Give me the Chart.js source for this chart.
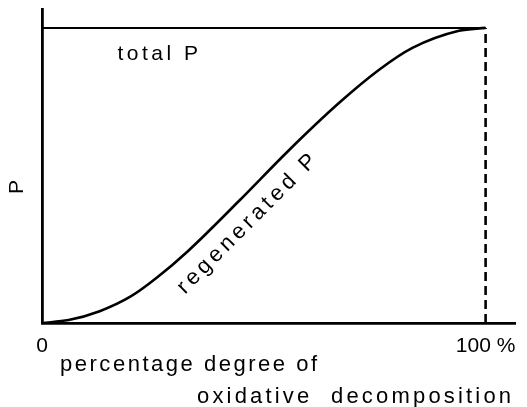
<!DOCTYPE html>
<html>
<head>
<meta charset="utf-8">
<script src="https://cdn.jsdelivr.net/npm/chart.js@4.4.0/dist/chart.umd.min.js"></script>
<style>
  html, body { margin: 0; padding: 0; background: #fff; }
  #wrap { width: 527px; height: 407px; }
</style>
</head>
<body>
<div id="wrap"><canvas id="oxChart"></canvas></div>
<script>
// regenerated P against degree of oxidative decomposition (%)
const degree = [0, 6, 13, 20, 26, 33, 44.5, 55.5, 67, 76, 83.5, 94, 100];
const regenerated = [0, 1, 4, 9, 15.5, 24.5, 41.5, 58.3, 74.6, 85.8, 93.2, 99, 100];
// total P stays flat over the whole range
const totalDegree = [0, 100];
const totalP = [100, 100];
// end of decomposition marker
const endDegree = [100, 100];
const endP = [0, 100];

const xTicks = [0, 100];
const xTickLabels = ['0', '100 %'];
const xTitle = ['percentage degree of', 'oxidative  decomposition'];
const yTitle = 'P';
const lineNames = ['total P', 'regenerated P'];

const FONT = '"Liberation Sans", Arial, sans-serif';

const pairs = (xs, ys) => xs.map((v, i) => ({ x: v, y: ys[i] }));

// draws the curve names and the axis titles
const labelPlugin = {
  id: 'labels',
  afterDraw(chart) {
    const { ctx, scales: { x, y } } = chart;
    ctx.save();
    ctx.fillStyle = '#000';
    ctx.font = '21px ' + FONT;

    // total P, under the flat line
    ctx.letterSpacing = '3.5px';
    ctx.textAlign = 'left';
    ctx.textBaseline = 'alphabetic';
    ctx.fillText(lineNames[0], x.getPixelForValue(17), y.getPixelForValue(89.2));

    // regenerated P, running along the curve
    ctx.save();
    ctx.font = '22px ' + FONT;
    ctx.letterSpacing = '4px';
    ctx.translate(x.getPixelForValue(46.5), y.getPixelForValue(34));
    ctx.rotate(-Math.PI / 4);
    ctx.textAlign = 'center';
    ctx.textBaseline = 'middle';
    ctx.fillText(lineNames[1], 0, 0);
    ctx.restore();

    // y title
    ctx.save();
    ctx.letterSpacing = '0px';
    ctx.translate(17, 187);
    ctx.rotate(-Math.PI / 2);
    ctx.textAlign = 'center';
    ctx.textBaseline = 'middle';
    ctx.fillText(yTitle, 0, 0);
    ctx.restore();

    // x title, two lines stretched over their own widths
    ctx.font = '22px ' + FONT;
    ctx.textAlign = 'left';
    ctx.textBaseline = 'alphabetic';
    const rows = [
      { text: xTitle[0], left: 60, right: 317, base: 371 },
      { text: xTitle[1], left: 197, right: 511, base: 403 }
    ];
    rows.forEach(r => {
      ctx.letterSpacing = '0px';
      const w = ctx.measureText(r.text).width;
      const sp = (r.right - r.left - w) / (r.text.length - 1);
      ctx.letterSpacing = sp.toFixed(2) + 'px';
      ctx.fillText(r.text, r.left, r.base);
    });
    ctx.restore();
  }
};

const ctx = document.getElementById('oxChart').getContext('2d');

const oxChart = new Chart(ctx, {
  type: 'line',
  data: {
    datasets: [
      {
        data: pairs(degree, regenerated),
        borderColor: '#000',
        borderWidth: 2.6,
        pointRadius: 0,
        cubicInterpolationMode: 'monotone'
      },
      {
        data: pairs(totalDegree, totalP),
        borderColor: '#000',
        borderWidth: 2,
        pointRadius: 0
      },
      {
        data: pairs(endDegree, endP),
        borderColor: '#000',
        borderWidth: 2.6,
        borderDash: [9, 5],
        pointRadius: 0
      }
    ]
  },
  options: {
    responsive: true,
    maintainAspectRatio: false,
    animation: false,
    layout: { padding: { top: 9, right: 10, left: 0, bottom: 0 } },
    plugins: {
      legend: { display: false },
      tooltip: { enabled: false }
    },
    scales: {
      x: {
        type: 'linear',
        min: 0,
        max: 106.7,
        grid: { display: false, drawTicks: false },
        border: { display: true, color: '#000', width: 2.8 },
        afterBuildTicks: scale => { scale.ticks = xTicks.map(v => ({ value: v })); },
        afterFit: scale => { scale.height = 84; },
        ticks: {
          color: '#000',
          padding: 11,
          maxRotation: 0,
          font: { family: FONT, size: 21 },
          callback: (v) => xTickLabels[xTicks.indexOf(v)]
        }
      },
      y: {
        type: 'linear',
        min: 0,
        max: 106.4,
        grid: { display: false, drawTicks: false },
        border: { display: true, color: '#000', width: 2.8 },
        afterFit: scale => { scale.width = 42; },
        ticks: { display: false }
      }
    }
  },
  plugins: [labelPlugin]
});
</script>
</body>
</html>
